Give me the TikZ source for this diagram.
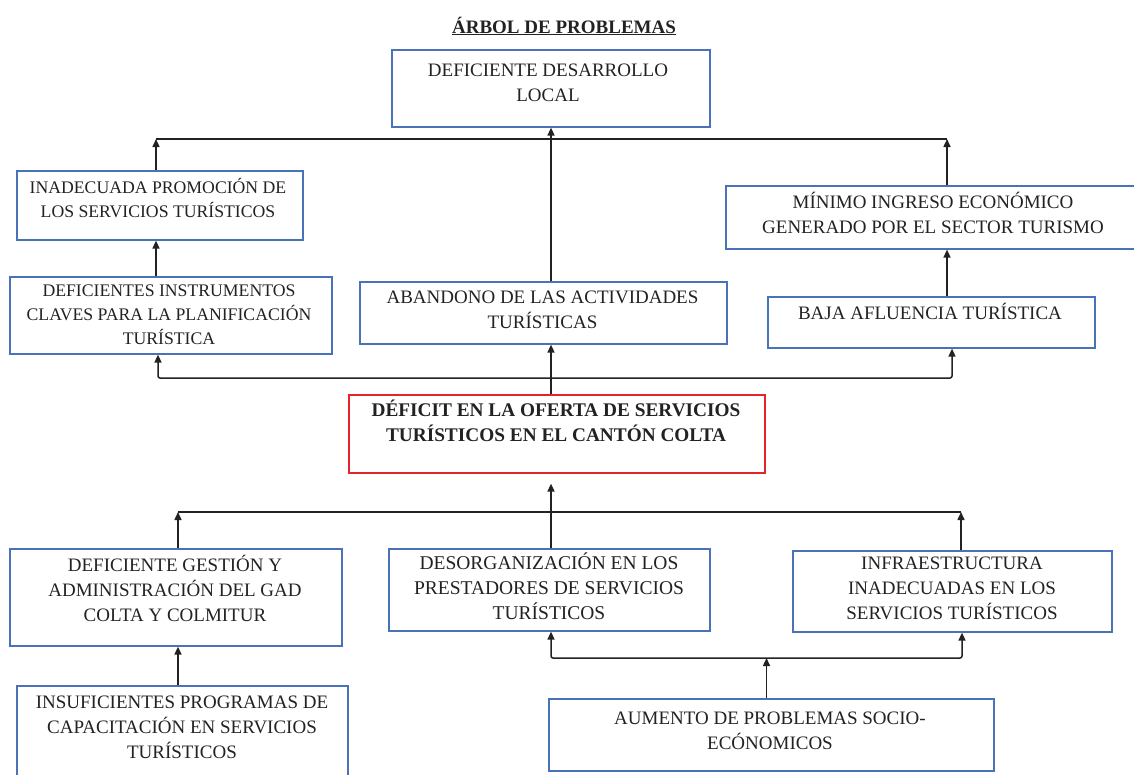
\documentclass[tikz,border=0pt]{standalone}
\usepackage{fontspec}
\setmainfont{Liberation Serif}
\usetikzlibrary{arrows.meta}
\definecolor{azul}{HTML}{4A72B8}
\definecolor{rojo}{HTML}{E0262B}
\definecolor{tinta}{HTML}{222222}
\tikzset{
  caja/.style={draw=azul, line width=1.2pt, inner sep=0pt},
  cajaroja/.style={draw=rojo, line width=1.2pt, inner sep=0pt},
  texto/.style={align=center, inner sep=0pt, text=tinta,
    font=\fontsize{19}{25}\selectfont,
    execute at begin node=\strut, execute at end node=\strut},
  chico/.style={font=\fontsize{17.7}{24}\selectfont},
  linea/.style={draw=tinta, line width=1.5pt},
  flecha/.style={linea, -{Triangle[length=8pt,width=7pt]}},
  doble/.style={linea, rounded corners=2pt,
    {Triangle[length=8pt,width=7pt]}-{Triangle[length=8pt,width=7pt]}}
}
\begin{document}
\begin{tikzpicture}[x=1pt,y=-1pt]
    \useasboundingbox (0,0) rectangle (1134,774);
    % efectos
    \node[texto, font=\fontsize{19}{25}\selectfont\bfseries] (titulo) at (564,28) {\underline{ÁRBOL DE PROBLEMAS}};
    \node[caja, minimum width=318pt, minimum height=77pt] (desarrollo) at (551,88.5) {};
    \node[texto] (desarrollo-t) at (548,86) {DEFICIENTE DESARROLLO\\LOCAL};
    \node[caja, minimum width=286pt, minimum height=69pt] (promocion) at (160,205.5) {};
    \node[texto, chico] (promocion-t) at (158,201) {INADECUADA PROMOCIÓN DE\\LOS SERVICIOS TURÍSTICOS};
    \node[caja, minimum width=322pt, minimum height=77pt] (instrumentos) at (171,315.5) {};
    \node[texto, chico] (instrumentos-t) at (169,318) {DEFICIENTES INSTRUMENTOS\\CLAVES PARA LA PLANIFICACIÓN\\TURÍSTICA};
    \node[caja, minimum width=367pt, minimum height=62pt] (abandono) at (543.5,313) {};
    \node[texto] (abandono-t) at (542.5,313) {ABANDONO DE LAS ACTIVIDADES\\TURÍSTICAS};
    \node[caja, minimum width=442pt, minimum height=63pt] (minimo) at (947,217.5) {};
    \node[texto] (minimo-t) at (933,217) {MÍNIMO INGRESO ECONÓMICO\\GENERADO POR EL SECTOR TURISMO};
    \node[caja, minimum width=327pt, minimum height=51pt] (baja) at (931.5,322.5) {};
    \node[texto] (baja-t) at (930,314) {BAJA AFLUENCIA TURÍSTICA};
    % problema central
    \node[cajaroja, minimum width=416pt, minimum height=78pt] (deficit) at (557,434) {};
    \node[texto, font=\fontsize{19.3}{25}\selectfont\bfseries] (deficit-t) at (556,424) {DÉFICIT EN LA OFERTA DE SERVICIOS\\TURÍSTICOS EN EL CANTÓN COLTA};
    % causas
    \node[caja, minimum width=332pt, minimum height=97pt] (gestion) at (176,597.5) {};
    \node[texto] (gestion-t) at (175,592) {DEFICIENTE GESTIÓN Y\\ADMINISTRACIÓN DEL GAD\\COLTA Y COLMITUR};
    \node[caja, minimum width=321pt, minimum height=82pt] (desorg) at (549.5,590) {};
    \node[texto, font=\fontsize{19.5}{25}\selectfont] (desorg-t) at (549,590) {DESORGANIZACIÓN EN LOS\\PRESTADORES DE SERVICIOS\\TURÍSTICOS};
    \node[caja, minimum width=319pt, minimum height=81pt] (infra) at (952.5,591.5) {};
    \node[texto] (infra-t) at (952,592) {INFRAESTRUCTURA\\INADECUADAS EN LOS\\SERVICIOS TURÍSTICOS};
    \node[caja, minimum width=331pt, minimum height=114pt] (insuf) at (182.5,743) {};
    \node[texto] (insuf-t) at (182,731) {INSUFICIENTES PROGRAMAS DE\\CAPACITACIÓN EN SERVICIOS\\TURÍSTICOS};
    \node[caja, minimum width=445pt, minimum height=72pt] (aumento) at (771.5,735) {};
    \node[texto] (aumento-t) at (770,734) {AUMENTO DE PROBLEMAS SOCIO-\\ECÓNOMICOS};
    % barras
    \coordinate (sup-izq) at (156,139);
    \coordinate (sup-der) at (947,139);
    \coordinate (med-izq) at (158,378);
    \coordinate (med-der) at (952,378);
    \coordinate (inf-izq) at (178,512);
    \coordinate (inf-der) at (961,512);
    \coordinate (base-izq) at (551,658);
    \coordinate (base-der) at (962,658);
    \draw[linea] (sup-izq) -- (sup-der);
    \draw[flecha] (sup-izq |- promocion.north) -- (sup-izq);
    \draw[flecha] (sup-der |- minimo.north) -- (sup-der);
    \draw[flecha] (abandono.north -| desarrollo.south) -- (desarrollo.south);
    \draw[flecha] (sup-izq |- instrumentos.north) -- (sup-izq |- promocion.south);
    \draw[flecha] (sup-der |- baja.north) -- (sup-der |- minimo.south);
    \draw[doble] (med-izq |- instrumentos.south) -- (med-izq) -- (med-der) -- (med-der |- baja.south);
    \draw[flecha] (deficit.north -| desarrollo.south) -- (abandono.south -| desarrollo.south);
    \draw[linea] (inf-izq) -- (inf-der);
    \draw[flecha] (inf-izq |- gestion.north) -- (inf-izq);
    \draw[flecha] (inf-der |- infra.north) -- (inf-der);
    \draw[flecha, shorten >=10pt] (desorg.north -| desarrollo.south) -- (deficit.south -| desarrollo.south);
    \draw[flecha] (inf-izq |- insuf.north) -- (inf-izq |- gestion.south);
    \draw[doble] (desorg.south -| base-izq) -- (base-izq) -- (base-der) -- (base-der |- infra.south);
    \draw[flecha] ([xshift=-5pt]aumento.north) -- ([xshift=-5pt]aumento.north |- base-izq);
\end{tikzpicture}
\end{document}
